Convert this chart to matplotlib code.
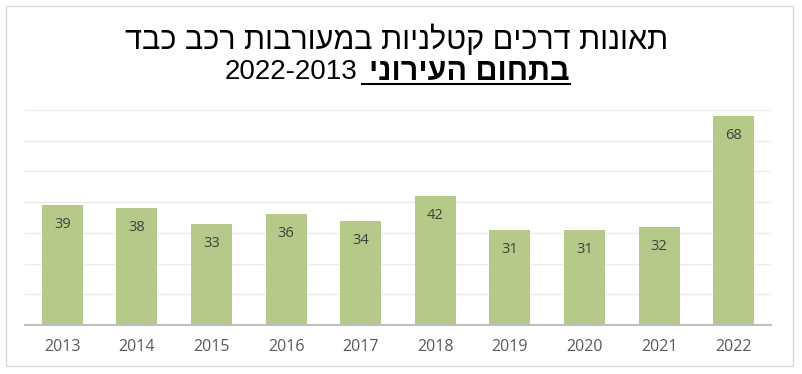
import matplotlib
matplotlib.use("Agg")
import matplotlib.pyplot as plt
from matplotlib.patches import Rectangle
from matplotlib.lines import Line2D

years = ["2013", "2014", "2015", "2016", "2017", "2018", "2019", "2020", "2021", "2022"]
accidents = [39, 38, 33, 36, 34, 42, 31, 31, 32, 68]

title_line1 = "תאונות דרכים קטלניות במעורבות רכב כבד"
title_bold = "בתחום העירוני"
title_years = "2022-2013"

bar_color = "#b5ca88"

fig = plt.figure(figsize=(8.02, 3.74), dpi=100)
fig.patch.set_facecolor("white")

# outer frame of the chart
fig.add_artist(Rectangle((6 / 802, 1 - 366 / 374), 787 / 802, 360 / 374,
                         transform=fig.transFigure, fill=False,
                         edgecolor="#d9d9d9", linewidth=1))

ax = fig.add_axes([25 / 802, 1 - 325 / 374, 746 / 802, 215 / 374])
x = range(len(years))
bars = ax.bar(x, accidents, width=0.55, color=bar_color, zorder=2)
ax.set_xlim(-0.5, 9.5)
ax.set_ylim(0, 70)
ax.set_yticks(range(10, 71, 10))
ax.yaxis.grid(True, color="#ececec", linewidth=1, zorder=0)
ax.tick_params(axis="y", left=False, labelleft=False)
ax.set_xticks(list(x))
ax.set_xticklabels(years, fontsize=11.5, color="#595959", family="Open Sans")
ax.tick_params(axis="x", length=0, pad=10)
for s in ["top", "right", "left"]:
    ax.spines[s].set_visible(False)
ax.spines["bottom"].set_color("#bfbfbf")
ax.spines["bottom"].set_linewidth(1.5)
ax.set_facecolor("none")

for b, v in zip(bars, accidents):
    ax.annotate(str(v), (b.get_x() + b.get_width() / 2, v),
                xytext=(0, -14), textcoords="offset points",
                ha="center", va="center", fontsize=10.5, color="#404040",
                family="Open Sans")

# title: Hebrew drawn in visual order (reversed)
tfont = ["Liberation Sans", "DejaVu Sans"]
fig.text(397 / 802, 1 - 40 / 374, title_line1[::-1], ha="center", va="center",
         fontsize=22, family=tfont, color="black")

fig.canvas.draw()
renderer = fig.canvas.get_renderer()
t_bold = fig.text(570 / 802, 1 - 72 / 374, title_bold[::-1], ha="right", va="center",
                  fontsize=22, family=tfont, weight="bold", color="black")
bb2 = t_bold.get_window_extent(renderer)
t_years = fig.text((bb2.x0 - 12) / 802, 1 - 72 / 374, title_years, ha="right",
                   va="center", fontsize=20, family=tfont, color="black")
uy = 1 - 84 / 374
fig.add_artist(Line2D([(bb2.x0 - 7) / 802, bb2.x1 / 802], [uy, uy],
                      transform=fig.transFigure, color="black", linewidth=1.5))

fig.savefig("out.png", dpi=100, facecolor="white")
